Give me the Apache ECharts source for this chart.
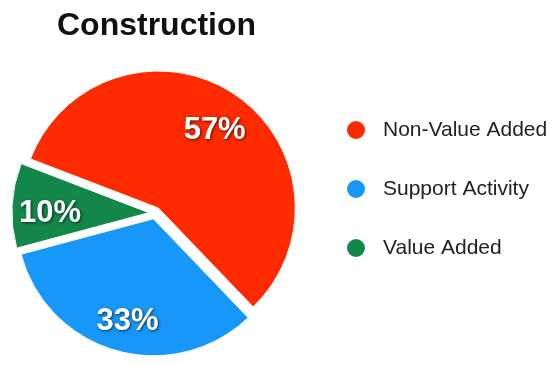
<!DOCTYPE html>
<html>
<head>
<meta charset="utf-8">
<script src="https://cdn.jsdelivr.net/npm/echarts@6/dist/echarts.min.js"></script>
<style>html,body{margin:0;padding:0;background:#fff;}#c{width:555px;height:365px;}</style>
</head>
<body>
<div id="c"></div>
<script>
var categories = ['Non-Value Added', 'Support Activity', 'Value Added'];
var values = [57, 33, 10];
var colors = ['#FF2A00', '#1797FA', '#13874A'];
var titleText = 'Construction';

var chart = echarts.init(document.getElementById('c'), null, {renderer: 'canvas'});

function makeData(withColor) {
  return categories.map(function (n, i) {
    return {
      name: n,
      value: values[i],
      selected: true,
      itemStyle: withColor ? {color: colors[i]} : {color: 'rgba(0,0,0,0)'}
    };
  });
}

var center = [155, 213];
var R = 137;

chart.setOption({
  animation: false,
  backgroundColor: '#ffffff',
  title: {
    text: titleText,
    left: 52,
    top: 5,
    textStyle: {fontFamily: 'Liberation Sans, Arial, sans-serif', fontWeight: 'bold', fontSize: 32, color: '#111'}
  },
  legend: {
    orient: 'vertical',
    left: 340,
    top: 114,
    itemWidth: 20,
    itemHeight: 20,
    itemGap: 37,
    icon: 'circle',
    selectedMode: false,
    data: categories.map(function (n, i) { return {name: n, itemStyle: {color: colors[i]}}; }),
    textStyle: {fontFamily: 'Liberation Sans, Arial, sans-serif', fontSize: 21, lineHeight: 20, color: '#222', padding: [0, 0, 0, 12]}
  },
  series: [
    {
      type: 'pie',
      center: center,
      radius: [0, R],
      startAngle: 159,
      clockwise: true,
      selectedMode: 'multiple',
      selectedOffset: 6,
      silent: true,
      label: {show: false},
      labelLine: {show: false},
      itemStyle: {borderColor: '#fff', borderWidth: 1},
      emphasis: {disabled: true},
      data: makeData(true)
    },
    {
      type: 'pie',
      center: center,
      radius: [57, R],
      startAngle: 159,
      clockwise: true,
      selectedMode: 'multiple',
      selectedOffset: 6,
      silent: true,
      label: {
        show: true,
        position: 'inside',
        formatter: '{c}%',
        fontFamily: 'Liberation Sans, Arial, sans-serif',
        fontWeight: 'bold',
        fontSize: 31,
        color: '#fff',
        textShadowColor: 'rgba(0,0,0,0.65)',
        textShadowBlur: 3,
        textShadowOffsetX: 1,
        textShadowOffsetY: 1
      },
      labelLayout: {dx: 1, dy: 6},
      labelLine: {show: false},
      emphasis: {disabled: true},
      data: makeData(false)
    }
  ]
});
</script>
</body>
</html>
